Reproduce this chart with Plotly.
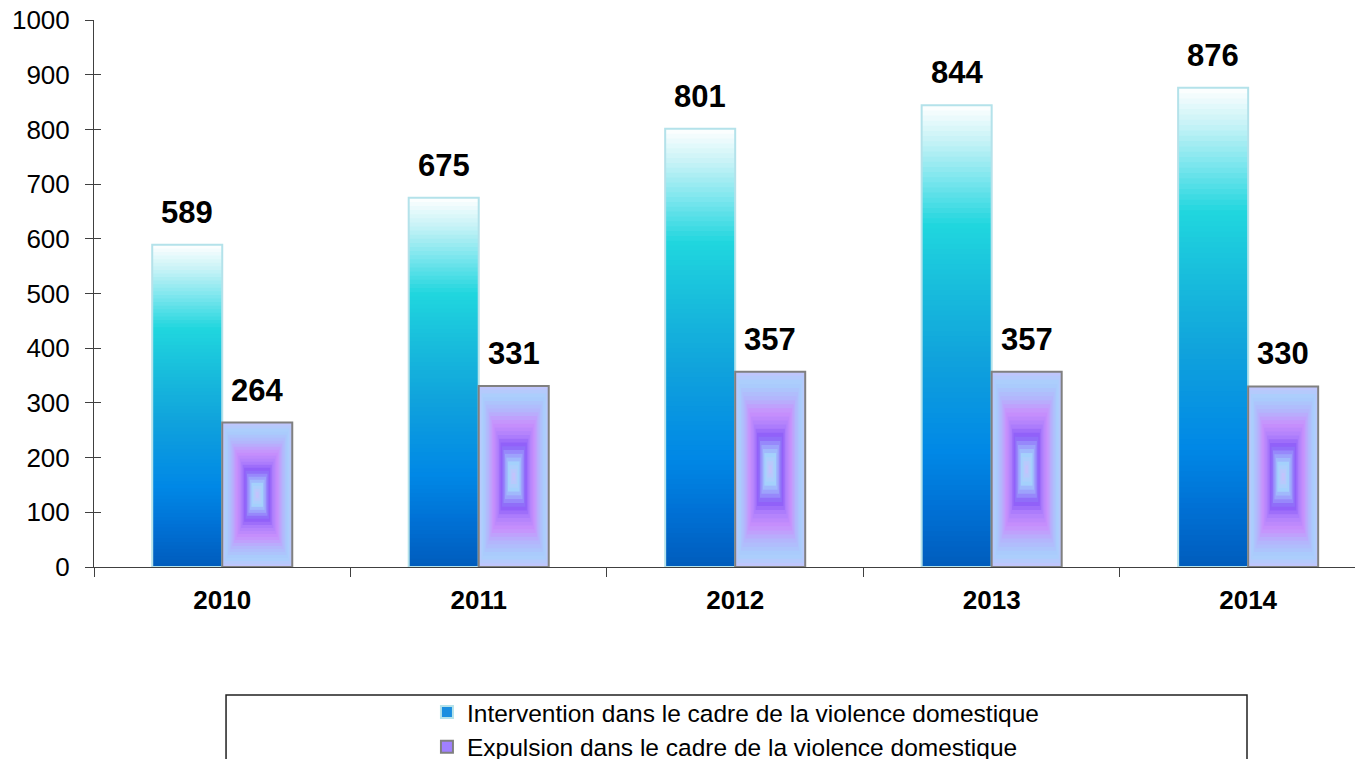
import plotly.graph_objects as go
from plotly.colors import sample_colorscale

# ================== Data ================== #
years = ["2010", "2011", "2012", "2013", "2014"]
interventions = [589, 675, 801, 844, 876]
expulsions = [264, 331, 357, 357, 330]

name_interv = "Intervention dans le cadre de la violence domestique"
name_expul = "Expulsion dans le cadre de la violence domestique"

FONT = "Liberation Sans, Arial, sans-serif"
BAR_W = 0.273

# vertical gradient (0 = bottom, 1 = top)
blue_scale = [
    [0.0, "#005cbc"], [0.12, "#0070d4"], [0.25, "#0088e6"], [0.45, "#10a2dc"],
    [0.6, "#18bcdc"], [0.74, "#20d6de"], [0.84, "#7ce6ee"], [0.92, "#c4f2f6"],
    [1.0, "#ffffff"],
]
# rectangular "from centre" gradient (0 = edge, 1 = centre)
purple_scale = [
    [0.0, "#c4c4fc"], [0.12, "#a8d0fc"], [0.28, "#b4b4fc"], [0.42, "#c890fc"],
    [0.55, "#b080fc"], [0.66, "#8c5cf8"], [0.76, "#9c9cfc"], [0.86, "#a4d4fc"],
    [1.0, "#c8c0fc"],
]

fig = go.Figure()

# ================== Intervention bars (stacked layers = gradient) ================== #
n_blue = 90
for k in range(n_blue):
    f = 1 - k / n_blue
    col = sample_colorscale(blue_scale, [f - 0.5 / n_blue])[0]
    fig.add_trace(go.Bar(
        x=years, y=[v * f for v in interventions],
        width=BAR_W, offset=-BAR_W,
        marker=dict(color=col, line=dict(width=0)),
        showlegend=False, hoverinfo="skip"
    ))

fig.add_trace(go.Bar(
    x=years, y=interventions, width=BAR_W, offset=-BAR_W,
    marker=dict(color="rgba(0,0,0,0)", line=dict(color="#b4e2ea", width=2)),
    showlegend=False, hovertemplate="%{x}: %{y}<extra></extra>"
))

# ================== Expulsion bars (concentric layers) ================== #
n_purple = 24
for k in range(n_purple):
    t = k / n_purple
    col = sample_colorscale(purple_scale, [t + 0.5 / n_purple])[0]
    fig.add_trace(go.Bar(
        x=years, y=[v * (1 - t) for v in expulsions],
        base=[v * t / 2 for v in expulsions],
        width=BAR_W * (1 - t), offset=BAR_W * t / 2,
        marker=dict(color=col, line=dict(width=0)),
        showlegend=False, hoverinfo="skip"
    ))

fig.add_trace(go.Bar(
    x=years, y=expulsions, width=BAR_W, offset=0,
    marker=dict(color="rgba(0,0,0,0)", line=dict(color="#808080", width=2)),
    showlegend=False, hovertemplate="%{x}: %{y}<extra></extra>"
))

# legend entries
fig.add_trace(go.Bar(
    x=[None], y=[None], name=name_interv,
    marker=dict(color="#1a8ee0", line=dict(color="#b4e2ea", width=2))
))
fig.add_trace(go.Bar(
    x=[None], y=[None], name=name_expul,
    marker=dict(color="#a080ff", line=dict(color="#808080", width=2))
))

# ================== Value labels ================== #
for i, (a, b) in enumerate(zip(interventions, expulsions)):
    for val, xpos in ((a, i - BAR_W / 2), (b, i + BAR_W / 2)):
        fig.add_annotation(
            x=xpos, y=val, text=f"<b>{val}</b>", showarrow=False,
            yshift=13, yanchor="bottom",
            font=dict(family=FONT, size=31, color="black")
        )

# legend frame
fig.add_shape(
    type="rect", xref="paper", yref="paper",
    x0=0.1034, x1=0.9029, y0=-0.234, y1=-0.45,
    line=dict(color="#202020", width=1.5), fillcolor="rgba(0,0,0,0)"
)

fig.update_layout(
    width=1363, height=759,
    margin=dict(l=86, r=0, t=12, b=200),
    barmode="overlay",
    plot_bgcolor="white", paper_bgcolor="white",
    font=dict(family=FONT, size=26, color="black"),
    showlegend=True,
    legend=dict(
        xref="paper", x=0.5027, xanchor="center",
        yref="container", y=0.102, yanchor="top",
        bgcolor="rgba(0,0,0,0)", font=dict(size=24.5),
        itemclick=False, itemdoubleclick=False
    ),
    xaxis=dict(
        type="category", range=[-0.5, 4.479], automargin=False,
        showline=True, linecolor="#404040", linewidth=1,
        ticks="outside", tickson="boundaries", ticklen=9, tickcolor="#404040",
        tickfont=dict(family=FONT, size=26, color="black"),
        ticklabelstandoff=10, ticklabeloverflow="allow",
        showgrid=False, zeroline=False,
        tickprefix="<b>", ticksuffix="</b>"
    ),
    yaxis=dict(
        range=[0, 1000], dtick=100, automargin=False,
        showline=True, linecolor="#404040", linewidth=1,
        ticks="outside", ticklen=8, tickcolor="#404040",
        tickfont=dict(family=FONT, size=26, color="black"),
        ticklabelstandoff=10, ticklabeloverflow="allow",
        showgrid=False, zeroline=False
    ),
    yaxis2=dict(
        range=[0, 1000], dtick=100, overlaying="y", side="left",
        automargin=False,
        ticks="inside", ticklen=7, tickcolor="#404040",
        showticklabels=False, showgrid=False, zeroline=False, showline=False
    ),
)

# invisible trace on yaxis2 so the inside tick marks render
fig.add_trace(go.Scatter(
    x=years, y=interventions, yaxis="y2", mode="markers",
    marker=dict(opacity=0), showlegend=False, hoverinfo="skip"
))

fig.write_html("out.html")
